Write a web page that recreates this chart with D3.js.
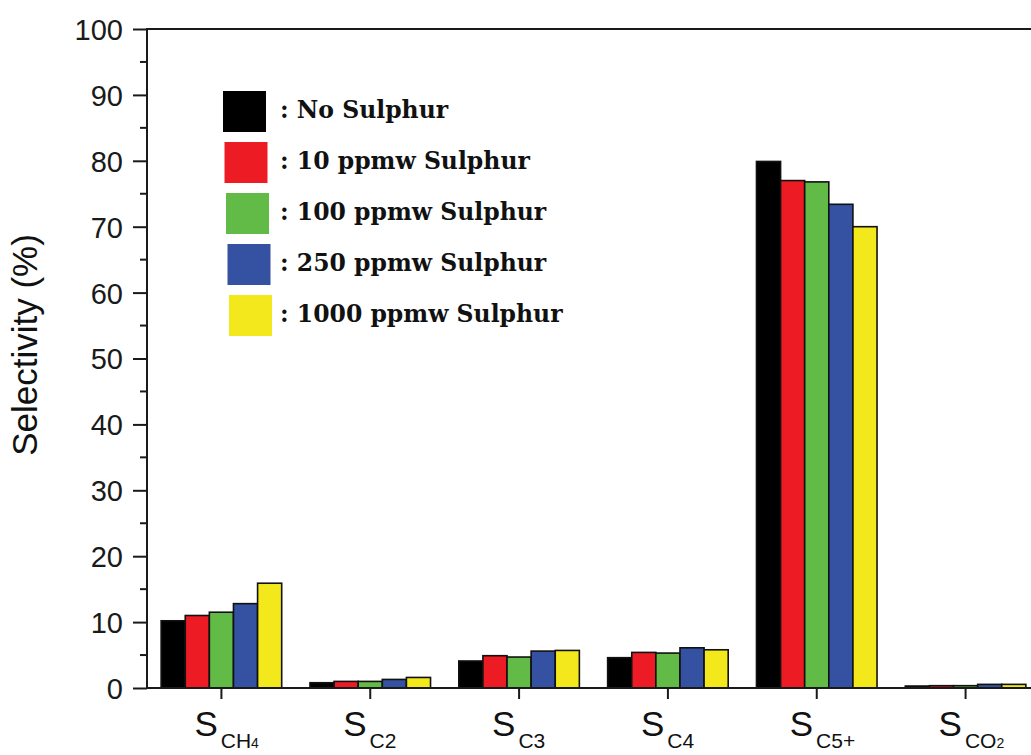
<!DOCTYPE html>
<html>
<head>
<meta charset="utf-8">
<script src="https://cdn.jsdelivr.net/npm/d3@7"></script>
<style>
  html, body { margin: 0; padding: 0; background: #fff; }
  svg { display: block; }
</style>
</head>
<body>
<svg id="chart" width="1031" height="755"></svg>
<script>
// Product selectivity (%) under different sulphur loadings
const categories = ["CH4", "C2", "C3", "C4", "C5+", "CO2"];
const seriesNames = [": No Sulphur", ": 10 ppmw Sulphur", ": 100 ppmw Sulphur", ": 250 ppmw Sulphur", ": 1000 ppmw Sulphur"];
const noSulphur   = [10.2, 0.8, 4.1, 4.6, 79.9, 0.3];
const ppmw10      = [11.0, 1.0, 4.9, 5.4, 77.0, 0.35];
const ppmw100     = [11.5, 1.0, 4.7, 5.3, 76.8, 0.35];
const ppmw250     = [12.8, 1.3, 5.6, 6.1, 73.4, 0.55];
const ppmw1000    = [15.9, 1.6, 5.7, 5.8, 70.0, 0.55];
const yTicks = [0, 10, 20, 30, 40, 50, 60, 70, 80, 90, 100];

const seriesValues = [noSulphur, ppmw10, ppmw100, ppmw250, ppmw1000];
const colors = ["#000000", "#ed1c24", "#62bb46", "#3451a2", "#f3e81b"];

const svg = d3.select("#chart");
const W = 1031, H = 755;
const plotLeft = 147, plotTop = 29, plotBottom = 688;

const y = d3.scaleLinear().domain([0, 100]).range([plotBottom, plotTop]);
const x = d3.scaleBand().domain(categories).range([plotLeft, 1040]).paddingInner(0.19).paddingOuter(0.095);
const xs = d3.scaleBand().domain(d3.range(seriesNames.length)).range([0, x.bandwidth()]).padding(0);

const axisColor = "#1a1a1a";
const sans = "'Liberation Sans', Arial, sans-serif";

// Bars
const groups = svg.append("g").selectAll("g")
  .data(categories)
  .join("g")
  .attr("transform", d => `translate(${x(d)},0)`);

groups.selectAll("rect")
  .data((d, ci) => seriesValues.map((vals, si) => ({ si, v: vals[ci] })))
  .join("rect")
  .attr("x", d => xs(d.si))
  .attr("y", d => y(d.v))
  .attr("width", xs.bandwidth())
  .attr("height", d => y(0) - y(d.v))
  .attr("fill", d => colors[d.si])
  .attr("stroke", "#111")
  .attr("stroke-width", 1.6);

// Left axis: major ticks labelled, minor ticks every 5
const yAxis = svg.append("g").attr("transform", `translate(${plotLeft},0)`);
yAxis.call(d3.axisLeft(y).tickValues(yTicks).tickSize(14).tickPadding(10).tickFormat(d3.format("d")));
yAxis.select(".domain").remove();
yAxis.selectAll(".tick line").attr("stroke", axisColor).attr("stroke-width", 2);
yAxis.selectAll(".tick text")
  .attr("fill", "#1a1a1a")
  .attr("dy", "0.36em")
  .style("font-family", sans)
  .style("font-size", "29px");

const minor = d3.range(5, 100, 10);
svg.append("g").selectAll("line")
  .data(minor)
  .join("line")
  .attr("x1", plotLeft - 7).attr("x2", plotLeft)
  .attr("y1", d => y(d)).attr("y2", d => y(d))
  .attr("stroke", axisColor).attr("stroke-width", 2);

// Frame lines
svg.append("line")
  .attr("x1", plotLeft).attr("x2", plotLeft)
  .attr("y1", plotTop - 1).attr("y2", plotBottom + 1)
  .attr("stroke", axisColor).attr("stroke-width", 2);
svg.append("line")
  .attr("x1", plotLeft).attr("x2", W)
  .attr("y1", plotTop).attr("y2", plotTop)
  .attr("stroke", axisColor).attr("stroke-width", 2);
svg.append("line")
  .attr("x1", plotLeft).attr("x2", W)
  .attr("y1", plotBottom).attr("y2", plotBottom)
  .attr("stroke", axisColor).attr("stroke-width", 2.2);

// Bottom ticks and labels
const xAxis = svg.append("g");
xAxis.selectAll("line")
  .data(categories)
  .join("line")
  .attr("x1", d => x(d) + x.bandwidth() / 2)
  .attr("x2", d => x(d) + x.bandwidth() / 2)
  .attr("y1", plotBottom).attr("y2", plotBottom + 11)
  .attr("stroke", axisColor).attr("stroke-width", 2);

// Subscript text: trailing digit of a molecular formula is drawn smaller
function subParts(cat) {
  const m = cat.match(/^(C[HO])(\d)$/);
  return m ? [[m[1], 21], [m[2], 14]] : [[cat, 21]];
}

const labels = xAxis.selectAll("text")
  .data(categories)
  .join("text")
  .attr("x", d => x(d) + x.bandwidth() / 2 - 27)
  .attr("y", 736)
  .attr("fill", "#111")
  .style("font-family", sans);

labels.append("tspan").style("font-size", "35px").text("S");
labels.each(function (d) {
  const t = d3.select(this);
  subParts(d).forEach(([txt, size], i) => {
    const ts = t.append("tspan").style("font-size", size + "px").text(txt);
    if (i === 0) ts.attr("dx", 3).attr("y", 748);
  });
});

// Y axis title
svg.append("text")
  .attr("transform", `translate(37,${345}) rotate(-90)`)
  .attr("text-anchor", "middle")
  .attr("fill", "#111")
  .style("font-family", sans)
  .style("font-size", "35px")
  .text("Selectivity (%)");

// Legend
const legend = svg.append("g");
const legendRows = legend.selectAll("g")
  .data(seriesNames)
  .join("g")
  .attr("transform", (d, i) => `translate(0,${91 + i * 51})`);

legendRows.append("rect")
  .attr("x", (d, i) => 223 + i * 1.5)
  .attr("width", 43).attr("height", 41)
  .attr("fill", (d, i) => colors[i]);

legendRows.append("text")
  .attr("x", 280)
  .attr("y", 27)
  .attr("fill", "#111")
  .style("font-family", "'DejaVu Serif', 'Liberation Serif', serif")
  .style("font-weight", "bold")
  .style("font-size", "23.5px")
  .text(d => d);
</script>
</body>
</html>
